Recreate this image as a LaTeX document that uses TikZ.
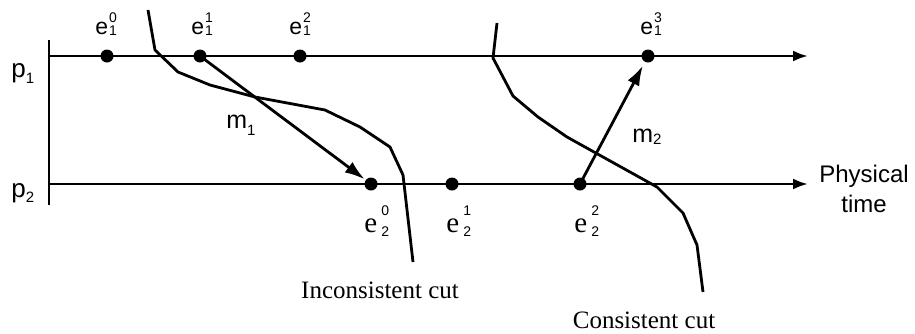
\documentclass[tikz,border=0pt]{standalone}
\usepackage{fontspec}
\setmainfont{Liberation Sans}
\newfontfamily\serifface{Liberation Serif}
\usetikzlibrary{arrows.meta}
\newcommand{\evs}[2]{{\fontsize{23}{23}\selectfont e}\kern1pt{\fontsize{14}{14}\selectfont\rlap{\raisebox{12pt}{#1}}\raisebox{-1pt}{#2}}}
\newcommand{\evr}[2]{{\serifface\fontsize{29}{29}\selectfont e}\kern4pt{\fontsize{14}{14}\selectfont\rlap{\raisebox{17pt}{#1}}\raisebox{-4pt}{#2}}}
\newcommand{\bigsub}[4]{{\fontsize{#4}{#4}\selectfont #1}{\fontsize{15}{15}\selectfont\raisebox{-#3}{#2}}}
\begin{document}
\begin{tikzpicture}[x=1pt,y=-1pt,line width=2.8pt,
  evdot/.style={circle,fill=black,draw=none,inner sep=0pt,minimum size=13pt},
  lbl/.style={anchor=base west,inner sep=0pt},
  axisline/.style={-{Latex[length=15pt,width=11pt]}},
  msgline/.style={-{Latex[length=20pt,width=13pt]}},
  cutline/.style={line join=round},
  cutlabel/.style={anchor=base,inner sep=0pt,font=\serifface\fontsize{25}{25}\selectfont}]
\useasboundingbox (0,0) rectangle (915,333);
% process axes
\coordinate (bartop) at (49,40);
\coordinate (barbot) at (49,205);
\coordinate (p1s) at (49,56);
\coordinate (p1e) at (808,56);
\coordinate (p2s) at (49,184);
\coordinate (p2e) at (808,184);
\draw (bartop) -- (barbot);
\draw[axisline] (p1s) -- (p1e);
\draw[axisline] (p2s) -- (p2e);
% events
\node[evdot] (e10) at (107,56) {};
\node[evdot] (e11) at (200,56) {};
\node[evdot] (e12) at (300,56) {};
\node[evdot] (e13) at (648,56) {};
\node[evdot] (e20) at (371,184) {};
\node[evdot] (e21) at (452,184) {};
\node[evdot] (e22) at (580,184) {};
% messages
\draw[msgline] (e11.center) -- (e20);
\draw[msgline,shorten >=3pt] (e22.center) -- (e13);
% cuts
\draw[cutline] (148,10) -- (155,50) -- (178,72) -- (210,85) -- (255,97) -- (325,110) -- (360,127) -- (390,147) -- (403,175) -- (413,262);
\draw[cutline] (497,23) -- (493,58) -- (513,96) -- (538,117) -- (567,137) -- (657,187) -- (683,213) -- (697,245) -- (703,292);
% labels
\node[lbl] (l10) at (94,34) {\evs{0}{1}};
\node[lbl] (l11) at (190,34) {\evs{1}{1}};
\node[lbl] (l12) at (288,34) {\evs{2}{1}};
\node[lbl] (l13) at (639,34) {\evs{3}{1}};
\node[lbl] (l20) at (363,232) {\evr{0}{2}};
\node[lbl] (l21) at (445,232) {\evr{1}{2}};
\node[lbl] (l22) at (573,232) {\evr{2}{2}};
\node[lbl] (p1) at (10,77) {\bigsub{p}{1}{6pt}{26}};
\node[lbl] (p2) at (10,197) {\bigsub{p}{2}{5pt}{26}};
\node[lbl] (m1) at (225,128) {\bigsub{m}{1}{7pt}{25}};
\node[lbl] (m2) at (631,142) {\bigsub{m}{2}{2pt}{25}};
\node[anchor=base,inner sep=0pt] (pt) at (864,182) {\fontsize{24}{30}\selectfont\begin{tabular}[t]{@{}c@{}}Physical\\time\end{tabular}};
\node[cutlabel] (ic) at (380,298) {Inconsistent cut};
\node[cutlabel] (cc) at (644,328) {Consistent cut};
\end{tikzpicture}
\end{document}
